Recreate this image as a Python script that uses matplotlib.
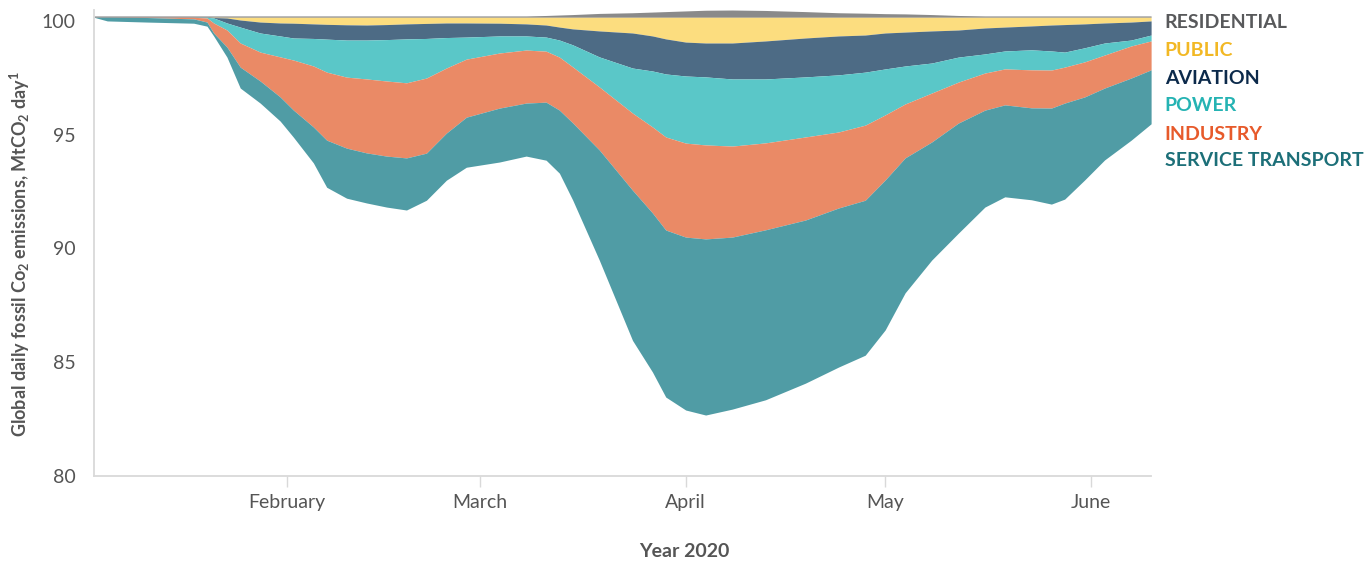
import numpy as np
import matplotlib
matplotlib.use("Agg")
import matplotlib.pyplot as plt
import matplotlib.dates as mdates

plt.rcParams['font.family'] = ['Lato', 'DejaVu Sans']
plt.rcParams['mathtext.fontset'] = 'custom'
plt.rcParams['mathtext.rm'] = 'Lato:bold'
plt.rcParams['mathtext.bf'] = 'Lato:bold'

# days after 1 Jan 2020
days = [2, 4, 10, 17, 19, 20, 22, 24, 27, 30, 32, 35, 37, 40, 43, 46, 49, 52,
        55, 58, 63, 67, 70, 72, 74, 78, 83, 86, 88, 91, 94, 98, 103, 109, 114,
        118, 121, 124, 128, 132, 136, 139, 143, 146, 148, 151, 154, 158, 161]

baseline = 100.16

# change vs baseline, MtCO2/day (residential up, the rest down)
residential = [0.06] * 22 + [0.08, 0.10, 0.12, 0.17, 0.20, 0.23, 0.25, 0.28,
               0.31, 0.32, 0.30, 0.25, 0.20, 0.18, 0.16, 0.15, 0.12, 0.08] + [0.06] * 9
public = [0, 0, 0, 0, 0, 0.01, 0.03, 0.12, 0.21, 0.25, 0.26, 0.29, 0.31, 0.33,
          0.34, 0.32, 0.29, 0.27, 0.25, 0.25, 0.26, 0.29, 0.34, 0.43, 0.51, 0.60,
          0.69, 0.82, 0.95, 1.09, 1.13, 1.13, 1.04, 0.91, 0.82, 0.78, 0.69, 0.65,
          0.60, 0.56, 0.47, 0.43, 0.38, 0.34, 0.32, 0.29, 0.25, 0.21, 0.16]
aviation = [0, 0, 0, 0, 0, 0.02, 0.22, 0.31, 0.48, 0.57, 0.65, 0.64, 0.65, 0.67,
            0.66, 0.66, 0.66, 0.66, 0.64, 0.62, 0.56, 0.53, 0.53, 0.57, 0.70, 1.14,
            1.54, 1.54, 1.54, 1.49, 1.49, 1.58, 1.67, 1.71, 1.71, 1.63, 1.58, 1.49,
            1.41, 1.19, 1.14, 1.05, 1.05, 1.14, 1.21, 1.05, 0.88, 0.79, 0.62]
power = [0, 0, 0, 0, 0.03, 0.22, 0.31, 0.70, 0.84, 0.92, 0.97, 1.21, 1.45, 1.63,
         1.71, 1.82, 1.93, 1.74, 1.34, 0.97, 0.75, 0.62, 0.62, 0.75, 0.97, 1.32,
         1.98, 2.46, 2.77, 2.95, 2.99, 2.95, 2.81, 2.64, 2.51, 2.33, 2.02, 1.67,
         1.32, 1.10, 0.84, 0.79, 0.88, 0.84, 0.66, 0.62, 0.53, 0.26, 0.26]
industry = [0, 0, 0.01, 0.07, 0.18, 0.44, 0.75, 1.06, 1.27, 1.76, 2.20, 2.68,
            2.99, 3.12, 3.25, 3.30, 3.30, 3.30, 2.86, 2.55, 2.42, 2.33, 2.24, 2.33,
            2.46, 2.77, 3.39, 3.78, 4.09, 4.13, 4.13, 4.00, 3.82, 3.65, 3.34, 3.30,
            2.86, 2.37, 2.15, 1.80, 1.63, 1.58, 1.67, 1.67, 1.58, 1.54, 1.45, 1.41, 1.27]
transport = [0, 0.16, 0.20, 0.19, 0.18, 0.13, 0.44, 0.92, 0.97, 1.06, 1.19, 1.58,
             2.07, 2.20, 2.20, 2.24, 2.29, 2.07, 2.07, 2.20, 2.37, 2.33, 2.55, 2.77,
             3.39, 4.84, 6.60, 6.99, 7.34, 7.60, 7.74, 7.56, 7.47, 7.17, 6.99, 6.81,
             6.59, 5.93, 5.19, 4.84, 4.26, 4.04, 4.04, 4.22, 4.22, 3.65, 3.16, 2.73, 2.37]

names = ['RESIDENTIAL', 'PUBLIC', 'AVIATION', 'POWER', 'INDUSTRY', 'SERVICE TRANSPORT']
fill_colors = ['#8a8a8a', '#fcdd7f', '#4d6b85', '#5ac7c8', '#ea8a66', '#509ca5']
text_colors = ['#58595b', '#f2b824', '#0c2a4b', '#25b3b3', '#e75a2b', '#1c6f78']

dates = np.datetime64('2020-01-01') + np.array(days).astype('timedelta64[D]')

fig = plt.figure(figsize=(13.72, 5.62), dpi=100)
ax = fig.add_axes([0.0685, 0.153, 0.7705, 0.830])

top = baseline + np.array(residential)
ax.fill_between(dates, baseline, top, color=fill_colors[0], lw=0)
level = np.full(len(days), baseline)
for vals, col in zip([public, aviation, power, industry, transport], fill_colors[1:]):
    new = level - np.array(vals)
    ax.fill_between(dates, new, level, color=col, lw=0)
    level = new

ax.set_xlim(dates[0], dates[-1])
ax.set_ylim(80, 100.5)
ax.set_yticks([80, 85, 90, 95, 100])
ax.xaxis.set_major_locator(mdates.MonthLocator(bymonth=[2, 3, 4, 5, 6]))
ax.xaxis.set_major_formatter(mdates.DateFormatter('%B'))

for s in ['top', 'right']:
    ax.spines[s].set_visible(False)
for s in ['left', 'bottom']:
    ax.spines[s].set_color('#d9d9d9')
    ax.spines[s].set_linewidth(1.3)
ax.tick_params(axis='y', length=0, pad=13, labelsize=14, labelcolor='#555555')
ax.tick_params(axis='x', length=8, width=1, color='#d9d9d9', pad=5,
               labelsize=14, labelcolor='#555555')

fig.text(0.0146, 0.548, 'Global daily fossil Co$_2$ emissions, MtCO$_2$ day$^1$',
         rotation=90, ha='center', va='center', fontsize=13, color='#555555',
         fontweight='bold')
fig.text(0.499, 0.018, 'Year 2020', ha='center', va='center', fontsize=14,
         color='#555555', fontweight='bold')

label_y = [23, 51, 79, 106, 134, 161]
for name, col, yy in zip(names, text_colors, label_y):
    fig.text(0.849, 1 - yy / 562, name, ha='left', va='center', fontsize=14,
             color=col, fontweight='bold')

fig.savefig('out.png', dpi=100)
